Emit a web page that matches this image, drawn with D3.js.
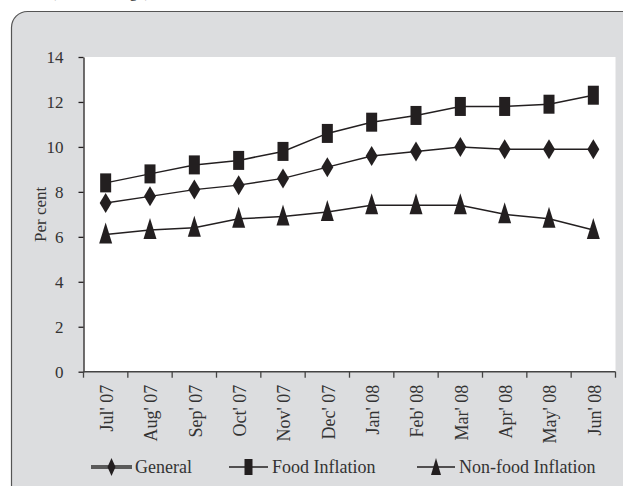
<!DOCTYPE html>
<html><head><meta charset="utf-8">
<script src="https://cdn.jsdelivr.net/npm/d3@7/dist/d3.min.js"></script>
<style>body{margin:0;background:#fff;}svg{display:block;}</style>
</head><body>
<svg id="chart" width="623" height="486"></svg>
<script>
const months = ["Jul' 07","Aug' 07","Sep' 07","Oct' 07","Nov' 07","Dec' 07","Jan' 08","Feb' 08","Mar' 08","Apr' 08","May' 08","Jun' 08"];
const general = [7.5, 7.8, 8.1, 8.3, 8.6, 9.1, 9.6, 9.8, 10.0, 9.9, 9.9, 9.9];
const food = [8.4, 8.8, 9.2, 9.4, 9.8, 10.6, 11.1, 11.4, 11.8, 11.8, 11.9, 12.3];
const nonFood = [6.1, 6.3, 6.4, 6.8, 6.9, 7.1, 7.4, 7.4, 7.4, 7.0, 6.8, 6.3];
const yTicks = [0, 2, 4, 6, 8, 10, 12, 14];
const seriesNames = ["General", "Food Inflation", "Non-food Inflation"];

const svg = d3.select("#chart");
const font = "'Liberation Serif', 'Times New Roman', serif";
const ink = "#231f20";
const fs = 17;

// caption remnant at top (cut off in the reference too)
svg.append("text").attr("x", 150).attr("y", -3).attr("text-anchor", "end")
  .attr("font-family", font).attr("font-size", 16).attr("fill", "#333")
  .text("(Y-o-Y change)");

// panel
svg.append("rect").attr("x", 11.5).attr("y", 11.5).attr("width", 700).attr("height", 600)
  .attr("rx", 16).attr("fill", "#dcdddf").attr("stroke", "#555").attr("stroke-width", 1.2);

const x = d3.scaleBand().domain(months).range([83.5, 615.5]);
const y = d3.scaleLinear().domain([0, 14]).range([371.7, 57]);

// plot area
svg.append("rect").attr("x", x.range()[0]).attr("y", y(14))
  .attr("width", x.range()[1] - x.range()[0]).attr("height", y(0) - y(14)).attr("fill", "#fff");

// y axis
const yAxis = svg.append("g").attr("transform", `translate(${x.range()[0]},0)`)
  .call(d3.axisLeft(y).tickValues(yTicks).tickSize(5).tickPadding(15).tickSizeOuter(0));
yAxis.select(".domain").attr("stroke", ink).attr("stroke-width", 1.3);
yAxis.selectAll(".tick line").attr("stroke", ink).attr("stroke-width", 1.3);
yAxis.selectAll("text").attr("font-family", font).attr("font-size", fs).attr("fill", "#333");

// x axis line and ticks at band boundaries
const xg = svg.append("g");
xg.append("line").attr("x1", x.range()[0]).attr("x2", x.range()[1])
  .attr("y1", y(0)).attr("y2", y(0)).attr("stroke", "#444").attr("stroke-width", 1.5);
const bounds = months.map(m => x(m)).concat([x.range()[1]]);
xg.selectAll(".xt").data(bounds).join("line")
  .attr("x1", d => d).attr("x2", d => d).attr("y1", y(0)).attr("y2", y(0) + 6)
  .attr("stroke", "#444").attr("stroke-width", 1.3);
xg.selectAll(".xl").data(months).join("text")
  .attr("transform", d => `translate(${x(d) + x.bandwidth() / 2 + 1},${y(0) + 13}) rotate(-90)`)
  .attr("text-anchor", "end").attr("dy", "0.35em")
  .attr("font-family", font).attr("font-size", 18).attr("fill", "#333")
  .text(d => d);

// y label
svg.append("text").attr("transform", `translate(40,${(y(0) + y(14)) / 2}) rotate(-90)`)
  .attr("text-anchor", "middle").attr("dy", "0.35em")
  .attr("font-family", font).attr("font-size", fs).attr("fill", "#333").text("Per cent");

// markers
function marker(g, type, cx, cy) {
  if (type === "diamond") {
    g.append("path").attr("d", `M${cx},${cy - 10}L${cx + 6},${cy}L${cx},${cy + 10}L${cx - 6},${cy}Z`).attr("fill", ink);
  } else if (type === "square") {
    g.append("rect").attr("x", cx - 5.5).attr("y", cy - 9.5).attr("width", 11).attr("height", 19).attr("fill", ink);
  } else {
    g.append("path").attr("d", `M${cx},${cy - 12}L${cx + 6.5},${cy + 9}L${cx - 6.5},${cy + 9}Z`).attr("fill", ink);
  }
}

const series = [
  {name: seriesNames[0], values: general, type: "diamond"},
  {name: seriesNames[1], values: food, type: "square"},
  {name: seriesNames[2], values: nonFood, type: "triangle"}
];
const line = d3.line().x((d, i) => x(months[i]) + x.bandwidth() / 2).y(d => y(d));
series.forEach(s => {
  const g = svg.append("g");
  g.append("path").attr("d", line(s.values)).attr("fill", "none").attr("stroke", ink).attr("stroke-width", 1.5);
  s.values.forEach((v, i) => marker(g, s.type, x(months[i]) + x.bandwidth() / 2, y(v)));
});

// legend
const legY = 467;
const leg = [
  {x0: 91, x1: 132, tx: 135, color: "#5a5a5a", w: 4},
  {x0: 229, x1: 268, tx: 272, color: ink, w: 1.3},
  {x0: 417, x1: 455, tx: 459, color: ink, w: 1.3}
];
series.forEach((s, i) => {
  const L = leg[i];
  const g = svg.append("g");
  g.append("line").attr("x1", L.x0).attr("x2", L.x1).attr("y1", legY).attr("y2", legY)
    .attr("stroke", L.color).attr("stroke-width", L.w);
  const cx = (L.x0 + L.x1) / 2;
  if (s.type === "diamond") g.append("path").attr("d", `M${cx},${legY - 9}L${cx + 4},${legY}L${cx},${legY + 9}L${cx - 4},${legY}Z`).attr("fill", ink);
  else if (s.type === "square") g.append("rect").attr("x", cx - 4).attr("y", legY - 8).attr("width", 8).attr("height", 16).attr("fill", ink);
  else g.append("path").attr("d", `M${cx},${legY - 9}L${cx + 5},${legY + 8}L${cx - 5},${legY + 8}Z`).attr("fill", ink);
  g.append("text").attr("x", L.tx).attr("y", legY).attr("dy", "0.35em")
    .attr("font-family", font).attr("font-size", 18).attr("fill", "#333").text(s.name);
});
</script>
</body></html>
